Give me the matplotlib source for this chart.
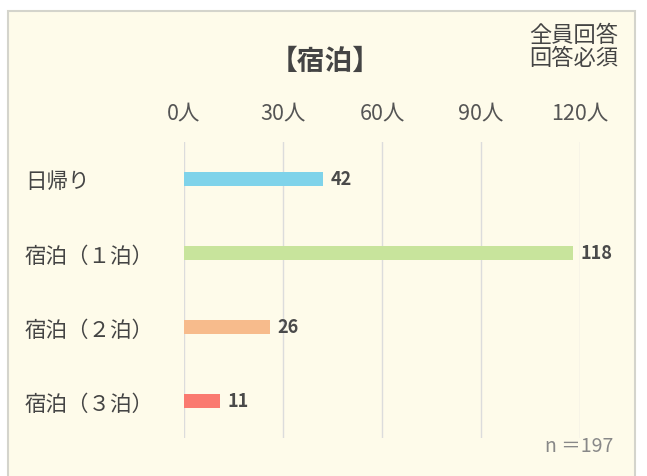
import matplotlib.pyplot as plt
import matplotlib.patches as patches

plt.rcParams['font.family'] = ['Noto Sans CJK JP', 'DejaVu Sans']

# data
categories = ['日帰り', '宿泊（１泊）', '宿泊（２泊）', '宿泊（３泊）']
counts = [42, 118, 26, 11]
bar_colors = ['#7fd3ea', '#c8e49c', '#f7bb8c', '#fa7a70']
tick_values = [0, 30, 60, 90, 120]
tick_labels = ['0人', '30人', '60人', '90人', '120人']
n_total = 197

W, H = 647, 477
fig = plt.figure(figsize=(W / 100, H / 100), dpi=100)
fig.patch.set_facecolor('white')

# cream panel with thin grey border (behind the axes)
panel = patches.Rectangle((8 / W, -0.02), 627 / W, 1 - 12 / H + 0.02,
                          transform=fig.transFigure, facecolor='#fefbea',
                          edgecolor='#d4d4cc', linewidth=1.5, zorder=-5)
fig.patches.append(panel)

ax = fig.add_axes([184 / W, 1 - 439 / H, 396 / W, 296 / H])
ax.set_facecolor('none')

y = list(range(len(categories)))
ax.barh(y, counts, height=0.19, color=bar_colors, zorder=3)
for yi, v in zip(y, counts):
    ax.text(v + 2.3, yi, str(v), va='center', ha='left', fontsize=13,
            fontweight='bold', color='#4a4a4a', zorder=4)

ax.set_xlim(0, 120)
ax.set_ylim(len(categories) - 0.5, -0.5)
ax.xaxis.tick_top()
ax.set_xticks(tick_values)
ax.set_xticklabels(tick_labels, fontsize=15.5, color='#555555')
ax.tick_params(axis='x', length=0, pad=13)
ax.grid(axis='x', color='#dcdcdc', linewidth=1, zorder=1)
ax.set_axisbelow(True)

ax.set_yticks(y)
ax.set_yticklabels(categories, fontsize=15.5, color='#444444', ha='left')
ax.tick_params(axis='y', length=0, pad=(184 - 25) * 0.72)

for s in ax.spines.values():
    s.set_visible(False)

fig.text(325 / W, 1 - 62 / H, '【宿泊】', ha='center', va='center',
         fontsize=20, fontweight='bold', color='#444444')
fig.text(618 / W, 1 - 47 / H, '全員回答\n回答必須', ha='right', va='center',
         fontsize=16, color='#444444', linespacing=1.0)
fig.text(613 / W, 1 - 447 / H, f'n ＝{n_total}',
         ha='right', va='center', fontsize=14, color='#888888')

fig.savefig('out.png', dpi=100, facecolor='white')
